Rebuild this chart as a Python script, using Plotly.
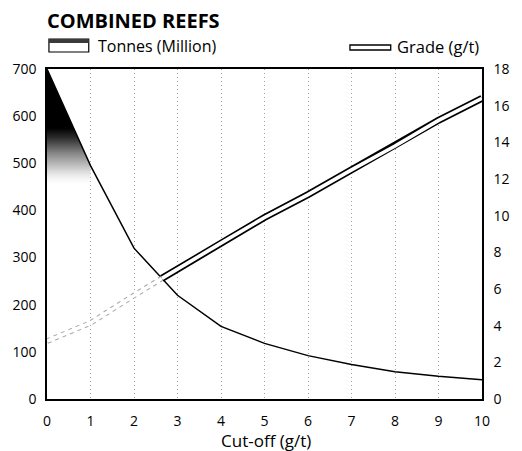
import plotly.graph_objects as go

# ---- data ----
cutoff = [0, 1, 2, 3, 4, 5, 6, 7, 8, 9, 10]
tonnes = [700, 495, 320, 220, 154, 118, 92, 73, 58, 48, 41]
grade = [3.15, 4.15, 5.65, 7.1, 8.5, 9.9, 11.15, 12.5, 13.8, 15.2, 16.4]
shade_floor = 450           # lower limit of the halftone shading under the tonnes curve
left_ticks = [0, 100, 200, 300, 400, 500, 600, 700]
right_ticks = [0, 2, 4, 6, 8, 10, 12, 14, 16, 18]
x_ticks = list(range(0, 11))

LEFT_MAX, RIGHT_MAX = 700, 18
FONT = "Open Sans"

# ---- where grade (right scale) crosses tonnes (left scale) ----
scale = LEFT_MAX / RIGHT_MAX
cx, cg, split = cutoff[-1], grade[-1], len(cutoff)
for i in range(1, len(cutoff)):
    d0 = tonnes[i - 1] - grade[i - 1] * scale
    d1 = tonnes[i] - grade[i] * scale
    if d0 > 0 >= d1:
        f = d0 / (d0 - d1)
        cx = cutoff[i - 1] + f * (cutoff[i] - cutoff[i - 1])
        cg = grade[i - 1] + f * (grade[i] - grade[i - 1])
        split = i
        break
dash_x = cutoff[:split] + [cx]
dash_g = grade[:split] + [cg]
solid_x = [cx] + cutoff[split:]
solid_g = [cg] + grade[split:]

fig = go.Figure()

# halftone shading under the steep first segment
fig.add_trace(go.Scatter(
    x=[cutoff[0], cutoff[1], cutoff[1], cutoff[0]],
    y=[tonnes[0], tonnes[1], shade_floor, shade_floor],
    fill="toself", mode="none", hoverinfo="skip", showlegend=False,
    fillgradient=dict(type="vertical", start=shade_floor, stop=tonnes[0],
                      colorscale=[[0, "rgba(255,255,255,0)"], [0.12, "#e0e0e0"],
                                  [0.28, "#8a8a8a"], [0.42, "#2a2a2a"], [0.5, "#000000"],
                                  [1, "#000000"]]),
))

# tonnes curve
fig.add_trace(go.Scatter(x=cutoff, y=tonnes, mode="lines",
                         line=dict(color="black", width=1.5), showlegend=False))

# grade: faint dashed double line, then solid double line
fig.add_trace(go.Scatter(x=dash_x, y=dash_g, yaxis="y2", mode="lines",
                         line=dict(color="#a8a8a8", width=5.5, dash="4px,4px"), showlegend=False))
fig.add_trace(go.Scatter(x=dash_x, y=dash_g, yaxis="y2", mode="lines",
                         line=dict(color="white", width=3.5), showlegend=False))
fig.add_trace(go.Scatter(x=solid_x, y=solid_g, yaxis="y2", mode="lines",
                         line=dict(color="black", width=7), showlegend=False))
fig.add_trace(go.Scatter(x=solid_x, y=solid_g, yaxis="y2", mode="lines",
                         line=dict(color="white", width=3.6), showlegend=False))

W, H = 522, 451
L, R, T, B = 45, 29, 69, 52
PW, PH = W - L - R, H - T - B


def X(px):
    return (px - L) / PW


def Y(py):
    return (H - B - py) / PH


shapes = [
    # tonnes legend key
    dict(type="rect", xref="paper", yref="paper", x0=X(47), x1=X(88), y0=Y(52), y1=Y(39),
         line=dict(color="black", width=1.2), fillcolor="white"),
    dict(type="rect", xref="paper", yref="paper", x0=X(47), x1=X(88), y0=Y(43), y1=Y(39),
         line=dict(width=0), fillcolor="#3a3a3a"),
    # grade legend key
    dict(type="rect", xref="paper", yref="paper", x0=X(357), x1=X(399), y0=Y(50), y1=Y(45),
         line=dict(color="black", width=1.3), fillcolor="white"),
]

annotations = [
    dict(text="<b>COMBINED REEFS</b>", xref="paper", yref="paper", x=X(43), y=Y(20),
         xanchor="left", yanchor="middle", showarrow=False,
         font=dict(family=FONT, size=20, color="black")),
    dict(text="Tonnes (Million)", xref="paper", yref="paper", x=X(95), y=Y(46),
         xanchor="left", yanchor="middle", showarrow=False,
         font=dict(family=FONT, size=16, color="black")),
    dict(text="Grade (g/t)", xref="paper", yref="paper", x=X(403), y=Y(46),
         xanchor="left", yanchor="middle", showarrow=False,
         font=dict(family=FONT, size=16.5, color="black")),
    dict(text="Cut-off (g/t)", xref="paper", yref="paper", x=X(271), y=Y(440),
         xanchor="center", yanchor="middle", showarrow=False,
         font=dict(family=FONT, size=17, color="black")),
]

fig.update_layout(
    width=W, height=H,
    margin=dict(l=L, r=R, t=T, b=B, pad=0),
    paper_bgcolor="white", plot_bgcolor="white",
    showlegend=False,
    font=dict(family=FONT, size=14, color="black"),
    shapes=shapes, annotations=annotations,
    xaxis=dict(range=[cutoff[0], cutoff[-1]], tickvals=x_ticks, ticks="",
               showgrid=True, gridcolor="#a0a0a0", griddash="1px,3px", gridwidth=1,
               showline=True, linecolor="black", linewidth=1.5, mirror=True,
               zeroline=False, ticklabelstandoff=8, tickfont=dict(size=14)),
    yaxis=dict(range=[0, LEFT_MAX], tickvals=left_ticks, ticks="", showgrid=False,
               showline=True, linecolor="black", linewidth=1.5, mirror=True,
               zeroline=False, ticklabelstandoff=6, tickfont=dict(size=14)),
    yaxis2=dict(range=[0, RIGHT_MAX], tickvals=right_ticks, ticks="", showgrid=False,
                overlaying="y", side="right", showline=True, linecolor="black",
                linewidth=1.5, zeroline=False, ticklabelstandoff=7, tickfont=dict(size=14)),
)

fig.write_html("out.html")
